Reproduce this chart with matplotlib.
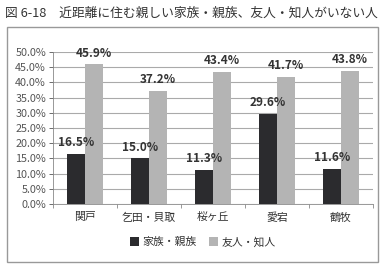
import numpy as np
import matplotlib.pyplot as plt
from matplotlib.patches import Rectangle

plt.rcParams['font.family'] = ['Noto Sans CJK JP', 'DejaVu Sans']

# data
areas = ['関戸', '乞田・貝取', '桜ヶ丘', '愛宕', '鶴牧']
family = [16.5, 15.0, 11.3, 29.6, 11.6]
friends = [45.9, 37.2, 43.4, 41.7, 43.8]
series_names = ['家族・親族', '友人・知人']
title = '図 6-18\u3000近距離に住む親しい家族・親族、友人・知人がいない人'

W, H = 383, 265
fig = plt.figure(figsize=(W / 100, H / 100), dpi=100)
fig.patch.set_facecolor('white')

# outer frame of the chart
fig.patches.append(Rectangle((7 / W, 3 / H), 371 / W, 235 / H, transform=fig.transFigure,
                             fill=False, edgecolor='#999999', linewidth=1.0))
fig.text(5 / W, 1 - 13 / H, title, fontsize=9.2, color='#333333', va='center', ha='left')

ax = fig.add_axes([53 / W, 1 - 204 / H, 320 / W, 152 / H])

x = np.arange(len(areas))
bw = 0.28
dark = '#2b2b2e'
light = '#b4b4b4'
b1 = ax.bar(x - bw / 2, family, bw, color=dark, label=series_names[0], zorder=3)
b2 = ax.bar(x + bw / 2, friends, bw, color=light, label=series_names[1], zorder=3)

for bars, vals in ((b1, family), (b2, friends)):
    for r, v in zip(bars, vals):
        ax.text(r.get_x() + r.get_width() / 2, v + 1.6, f'{v:.1f}%', ha='center', va='bottom',
                fontsize=8.5, fontweight='bold', color='#333333', zorder=4)

ax.set_ylim(0, 50)
ax.set_yticks(np.arange(0, 50.1, 5))
ax.set_yticklabels([f'{t:.1f}%' for t in np.arange(0, 50.1, 5)])
ax.set_xlim(-0.5, len(areas) - 0.5)
ax.set_xticks(x)
ax.set_xticklabels(areas)
ax.set_xticks(np.arange(-0.5, len(areas)), minor=True)
ax.yaxis.grid(True, color='#aaaaaa', linewidth=0.8, zorder=0)
ax.tick_params(axis='y', labelsize=7.8, colors='#555555', length=3, width=0.6, pad=2)
ax.tick_params(axis='x', which='major', labelsize=7.8, colors='#333333', length=0, pad=6)
ax.tick_params(axis='x', which='minor', length=3, width=0.6, color='#888888')
for s in ('top', 'right'):
    ax.spines[s].set_visible(False)
for s in ('left', 'bottom'):
    ax.spines[s].set_color('#888888')
    ax.spines[s].set_linewidth(0.6)

leg = fig.legend(handles=[b1, b2], loc='center', bbox_to_anchor=(0.53, 1 - 242 / H), ncol=2,
                 frameon=False, fontsize=7.8, handlelength=0.8, handleheight=0.8,
                 handletextpad=0.3, columnspacing=1.2)
for t in leg.get_texts():
    t.set_color('#333333')

fig.savefig('out.png', dpi=100)
